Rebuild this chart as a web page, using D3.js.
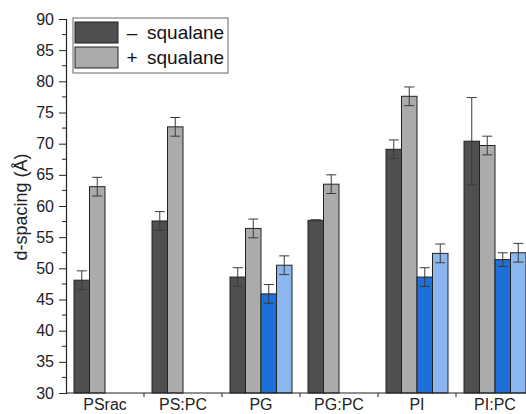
<!DOCTYPE html>
<html>
<head>
<meta charset="utf-8">
<script src="https://cdn.jsdelivr.net/npm/d3@7"></script>
<style>
  body { margin: 0; background: #fff; }
  svg { display: block; font-family: Arial, "Liberation Sans", sans-serif; }
</style>
</head>
<body>
<svg id="chart" width="526" height="414"></svg>
<script>
// Data
const categories = ["PSrac", "PS:PC", "PG", "PG:PC", "PI", "PI:PC"];
const seriesNames = ["- squalane", "+ squalane", "phase 2 -", "phase 2 +"];
const seriesColors = ["#4f4f4f", "#ababab", "#1f6fd9", "#8cb6ee"];
// values per series (null = no bar)
const minusSqualane = [48.1, 57.6, 48.6, 57.7, 69.1, 70.4];
const plusSqualane = [63.1, 72.7, 56.4, 63.5, 77.6, 69.7];
const minusSecond = [null, null, 45.9, null, 48.6, 51.4];
const plusSecond = [null, null, 50.5, null, 52.4, 52.5];
const minusErr = [1.5, 1.5, 1.5, 0.1, 1.5, 7.0];
const plusErr = [1.5, 1.5, 1.5, 1.5, 1.5, 1.5];
const minusSecondErr = [null, null, 1.5, null, 1.5, 1.1];
const plusSecondErr = [null, null, 1.5, null, 1.5, 1.5];
const yTicks = [30, 35, 40, 45, 50, 55, 60, 65, 70, 75, 80, 85, 90];

const values = [minusSqualane, plusSqualane, minusSecond, plusSecond];
const errors = [minusErr, plusErr, minusSecondErr, plusSecondErr];

const svg = d3.select("#chart");
const plotLeft = 66, plotTop = 19, plotBottom = 393, plotRight = 534;

let x = d3.scaleBand().domain(categories).range([plotLeft, plotRight]).paddingInner(0).paddingOuter(0);
let xInner = d3.scaleBand().domain(d3.range(4)).range([8, x.bandwidth() - 8]);
let y = d3.scaleLinear().domain([30, 90]).range([plotBottom, plotTop]);

// Bars
let bars = [];
values.forEach((series, s) => {
    series.forEach((v, i) => {
        if (v !== null) bars.push({cat: categories[i], s: s, v: v, e: errors[s][i]});
    });
});

let g = svg.append("g");
g.selectAll("rect")
    .data(bars)
    .enter()
    .append("rect")
    .attr("x", d => x(d.cat) + xInner(d.s))
    .attr("y", d => y(d.v))
    .attr("width", xInner.bandwidth())
    .attr("height", d => y(30) - y(d.v))
    .attr("fill", d => seriesColors[d.s])
    .attr("stroke", "#222")
    .attr("stroke-width", 1);

// Error bars
let eg = svg.append("g").attr("stroke", "#3a3a3a").attr("stroke-width", 1);
bars.forEach(d => {
    const cx = x(d.cat) + xInner(d.s) + xInner.bandwidth() / 2;
    const y1 = y(d.v + d.e), y2 = y(d.v - d.e);
    eg.append("line").attr("x1", cx).attr("x2", cx).attr("y1", y1).attr("y2", y2);
    [y1, y2].forEach(yy => {
        eg.append("line").attr("x1", cx - 5).attr("x2", cx + 5).attr("y1", yy).attr("y2", yy);
    });
});

// Y axis
let yAxis = d3.axisLeft(y).tickValues(yTicks).tickSize(7).tickPadding(5);
let ya = svg.append("g").attr("transform", `translate(${plotLeft},0)`).call(yAxis);
ya.select(".domain").attr("stroke", "#222").attr("stroke-width", 1.2);
ya.selectAll(".tick line").attr("stroke", "#222");
ya.selectAll("text").attr("font-size", 16).attr("fill", "#222");
// minor ticks
svg.append("g").selectAll("line")
    .data(d3.range(32.5, 90, 5))
    .enter()
    .append("line")
    .attr("x1", plotLeft - 4).attr("x2", plotLeft)
    .attr("y1", d => y(d)).attr("y2", d => y(d))
    .attr("stroke", "#222");

// X axis
let xa = svg.append("g").attr("transform", `translate(0,${plotBottom})`);
xa.append("line").attr("x1", plotLeft).attr("x2", plotRight).attr("y1", 0).attr("y2", 0)
    .attr("stroke", "#222").attr("stroke-width", 1.2);
xa.selectAll(".sep")
    .data(categories.slice(1))
    .enter()
    .append("line")
    .attr("x1", d => x(d)).attr("x2", d => x(d))
    .attr("y1", 0).attr("y2", 4)
    .attr("stroke", "#222");
xa.selectAll("text")
    .data(categories)
    .enter()
    .append("text")
    .attr("x", d => x(d) + x.bandwidth() / 2)
    .attr("y", 17)
    .attr("text-anchor", "middle")
    .attr("font-size", 16)
    .attr("fill", "#222")
    .text(d => d);

// Y label
svg.append("text")
    .attr("transform", "translate(27,207) rotate(-90)")
    .attr("text-anchor", "middle")
    .attr("font-size", 18)
    .attr("fill", "#222")
    .text("d-spacing (Å)");

// Legend
let lg = svg.append("g");
lg.append("rect").attr("x", 73).attr("y", 18).attr("width", 155).attr("height", 55)
    .attr("fill", "#fff").attr("stroke", "#666").attr("stroke-width", 1);
const legendItems = [["–", "squalane"], ["+", "squalane"]];
legendItems.forEach((item, i) => {
    const yy = 22 + i * 25;
    lg.append("rect").attr("x", 75).attr("y", yy).attr("width", 43).attr("height", 21)
        .attr("fill", seriesColors[i]).attr("stroke", "#222");
    lg.append("text").attr("x", 132).attr("y", yy + 17).attr("text-anchor", "middle")
        .attr("font-size", 19).attr("fill", "#111").text(item[0]);
    lg.append("text").attr("x", 147).attr("y", yy + 17).attr("font-size", 19).attr("fill", "#111").text(item[1]);
});
</script>
</body>
</html>
